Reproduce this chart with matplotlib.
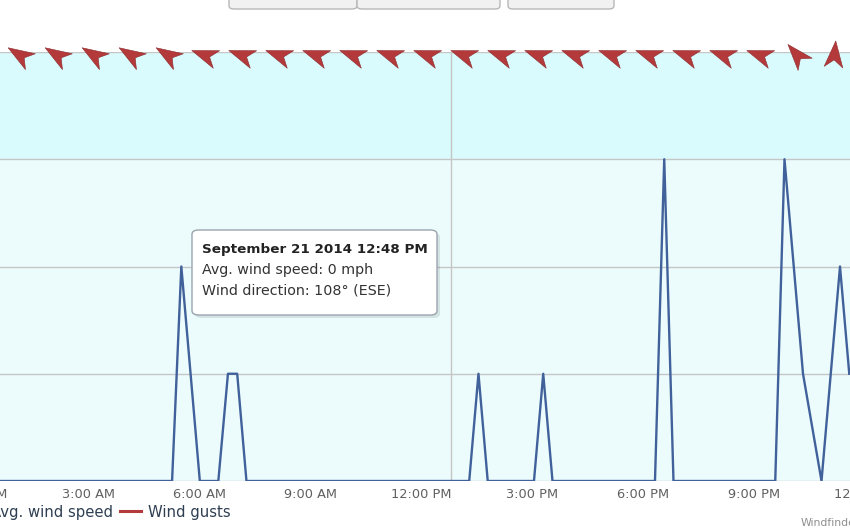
import numpy as np
import matplotlib
matplotlib.use("Agg")
import matplotlib.pyplot as plt
from matplotlib.path import Path
from matplotlib.markers import MarkerStyle
from matplotlib.transforms import Affine2D, blended_transform_factory
from matplotlib.patches import FancyBboxPatch
from matplotlib.lines import Line2D

plt.rcParams['font.family'] = ['DejaVu Sans']

# ---------------- data ----------------
# time in hours since midnight (Sept 21 2014), avg wind speed in mph
times = [0.05, 5.27, 5.52, 6.02, 6.52, 6.78, 7.03, 7.28,
         13.30, 13.55, 13.80, 15.05, 15.30, 15.55,
         18.32, 18.57, 18.82, 21.57, 21.82, 22.32, 22.82, 23.32, 23.57]
speeds = [0, 0, 2, 0, 0, 1, 1, 0,
          0, 1, 0, 0, 1, 0,
          0, 3, 0, 0, 3, 1, 0, 2, 1]

# hourly wind direction (degrees, wind coming from)
arrow_hours = [1.17, 2.17, 3.17, 4.17, 5.17, 6.17, 7.17, 8.17, 9.17, 10.17,
               11.17, 12.17, 13.17, 14.17, 15.17, 16.17, 17.17, 18.17, 19.17,
               20.17, 21.17, 22.17, 23.17]
arrow_dirs = [122, 122, 122, 122, 122, 110, 110, 110, 110, 110,
              110, 110, 110, 110, 110, 110, 110, 110, 110,
              110, 110, 139, 185]

tick_hours = [0, 3, 6, 9, 12, 15, 18, 21, 24]
tick_labels = ["12:00 AM", "3:00 AM", "6:00 AM", "9:00 AM", "12:00 PM",
               "3:00 PM", "6:00 PM", "9:00 PM", "12:00 AM"]

legend_labels = ["Avg. wind speed", "Wind gusts"]

tooltip_title = "September 21 2014 12:48 PM"
tooltip_lines = ["Avg. wind speed: 0 mph", "Wind direction: 108° (ESE)"]
tooltip_hour = 12.8

# ---------------- figure ----------------
W, H = 850, 530
fig = plt.figure(figsize=(W / 100, H / 100), dpi=100)
fig.patch.set_facecolor('white')

def fx(x):
    return x / W

def fy(y):
    return (H - y) / H

ax = fig.add_axes([0, fy(481), 1, (481 - 52) / H])
ax.set_xlim(0.62, 23.59)
ax.set_ylim(0, 4)

# speed bands
ax.axhspan(0, 3, color='#ecfcfd', zorder=0, lw=0)
ax.axhspan(3, 4, color='#dafbfd', zorder=0, lw=0)

ax.set_yticks([0, 1, 2, 3, 4])
ax.set_yticklabels([])
ax.set_xticks([])
ax.tick_params(length=0)
ax.grid(axis='y', color='#c6c6c6', lw=1.0, zorder=1)
for s in ax.spines.values():
    s.set_visible(False)

# crosshair
ax.axvline(tooltip_hour, color='#c4c4c4', lw=1.0, zorder=1)

# avg wind speed line
ax.plot(times, speeds, color='#41619a', lw=1.7, zorder=3)

# direction arrows
arrow_path = Path([(1.0, 0.0), (-0.8, 0.64), (-0.3, 0.0), (-0.8, -0.64), (1.0, 0.0)],
                  [Path.MOVETO, Path.LINETO, Path.LINETO, Path.LINETO, Path.CLOSEPOLY])
for h, d in zip(arrow_hours, arrow_dirs):
    screen_angle = 90 - (d + 180)
    m = MarkerStyle(arrow_path, transform=Affine2D().rotate_deg(screen_angle))
    ax.plot([h], [3.975], marker=m, markersize=21, color='#b3393b',
            markeredgecolor='#8c2a2c', markeredgewidth=0.4, linestyle='none',
            clip_on=False, zorder=5)

# x tick labels
trans = blended_transform_factory(ax.transData, ax.transAxes)
for h, lab in zip(tick_hours, tick_labels):
    ax.text(h, -13.5 / 429, lab, transform=trans, ha='center', va='center',
            fontsize=9.3, color='#606060', clip_on=False)

# legend (partly cut off at left)
fig.text(fx(113), fy(512), legend_labels[0], ha='right', va='center',
         fontsize=10.7, color='#2e3f52')
fig.add_artist(Line2D([fx(120), fx(141)], [fy(511), fy(511)], color='#b3393b', lw=2.2))
fig.text(fx(148), fy(512), legend_labels[1], ha='left', va='center',
         fontsize=10.7, color='#2e3f52')

# credit
fig.text(fx(801), fy(523), "Windfinder.com", ha='left', va='center',
         fontsize=7.8, color='#909090')

# top buttons (partly cut off)
for x0, x1 in [(229, 357), (357, 500), (508, 614)]:
    b = FancyBboxPatch((fx(x0), fy(9)), fx(x1 - x0), fy(-6) - fy(9),
                       boxstyle="round,pad=0,rounding_size=0.006",
                       transform=fig.transFigure, facecolor='#f1f1f1',
                       edgecolor='#b8b8b8', lw=1.0, clip_on=False)
    fig.add_artist(b)

# tooltip
shadow = FancyBboxPatch((fx(195), fy(318)), fx(245), fy(230) - fy(315),
                        boxstyle="round,pad=0,rounding_size=0.008",
                        transform=fig.transFigure, facecolor='#000000', alpha=0.10,
                        edgecolor='none')
fig.add_artist(shadow)
box = FancyBboxPatch((fx(192), fy(315)), fx(245), fy(230) - fy(315),
                     boxstyle="round,pad=0,rounding_size=0.008",
                     transform=fig.transFigure, facecolor='white',
                     edgecolor='#9aa4ae', lw=1.0)
fig.add_artist(box)
fig.text(fx(202), fy(249), tooltip_title, ha='left', va='center',
         fontsize=9.7, fontweight='bold', color='#222222')
for i, line in enumerate(tooltip_lines):
    fig.text(fx(202), fy(270 + 21 * i), line, ha='left', va='center',
             fontsize=10.3, color='#333333')

fig.savefig('out.png', dpi=100, facecolor='white')
